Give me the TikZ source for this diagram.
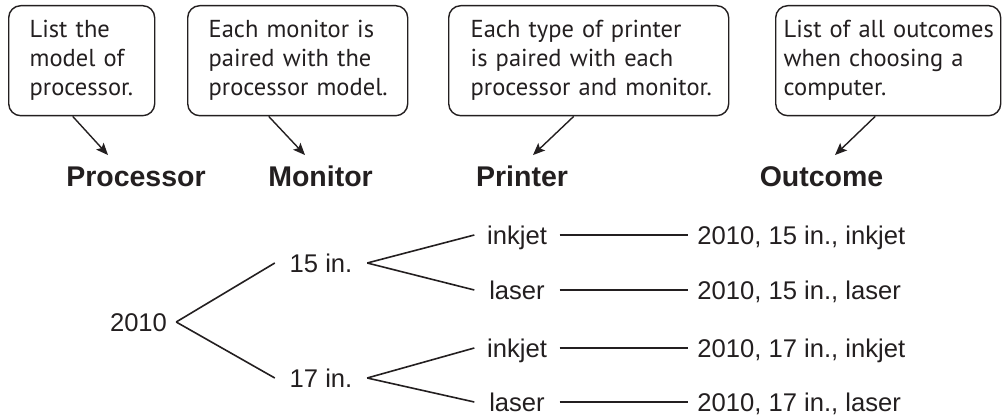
\documentclass[tikz,border=0pt]{standalone}
\usepackage{fontspec}
\setmainfont{Liberation Sans}
\newfontfamily\bullefont{PT Sans}
\usetikzlibrary{arrows.meta,positioning}
\definecolor{colEncre}{RGB}{35,31,32}

\begin{document}
\begin{tikzpicture}[x=1pt, y=-1pt, colEncre,
    bulle/.style={rectangle, rounded corners=12pt, draw, line width=1.4pt,
      anchor=north west, align=left, minimum height=110pt, inner ysep=0pt,
      font=\bullefont\fontsize{24.5}{29}\selectfont,
      execute at begin node={\hyphenpenalty=10000\exhyphenpenalty=10000}},
    titre/.style={font=\bfseries\fontsize{28.5}{34}\selectfont,
      text height=20.5pt, text depth=0pt, inner xsep=2pt, inner ysep=11pt},
    br/.style={font=\fontsize{25.6}{30}\selectfont, text height=18.4pt,
      text depth=0pt, inner sep=0pt},
    fl/.style={-{Stealth[length=12pt, width=10pt, inset=2.5pt]}, line width=1.4pt},
    tr/.style={line width=1.6pt}]
    \useasboundingbox (0,0) rectangle (1003,419);
    % bulles
    \node[bulle, text width=104pt, inner xsep=21pt] (c1) at (8,5)
      {List the\\ model of\\ processor.};
    \node[bulle, text width=178pt, inner xsep=21pt] (c2) at (187,5)
      {Each monitor is\\ paired with the\\ processor~model.};
    \node[bulle, text width=236pt, inner xsep=22pt] (c3) at (448,5)
      {Each type of printer\\ is paired with each\\ processor~and~monitor.};
    \node[bulle, text width=209pt, inner xsep=8pt] (c4) at (775,5)
      {List~of~all~outcomes\\ when choosing a\\ computer.};
    % titres
    \node[titre] (hproc) at (136,176.5) {Processor};
    \node[titre] (hmon) at (320.5,176.5) {Monitor};
    \node[titre] (hprn) at (522,176.5) {Printer};
    \node[titre] (hout) at (821.5,176.5) {Outcome};
    \draw[fl] ([xshift=-9pt]c1.south) -- ([xshift=-28pt]hproc.north);
    \draw[fl] ([xshift=-29pt]c2.south) -- ([xshift=-15.5pt]hmon.north);
    \draw[fl] ([xshift=-15pt]c3.south) -- ([xshift=11pt]hprn.north);
    \draw[fl] ([xshift=-13pt]c4.south) -- ([xshift=13.5pt]hout.north);
    % arbre
    \node[br, minimum width=75pt] (a) at (138.5,322) {2010};
    \node[br, minimum width=92pt] (m15) at (321,263) {15 in.};
    \node[br, minimum width=92pt] (m17) at (321,378) {17 in.};
    \node[br, minimum width=85pt] (p1) at (517,235) {inkjet};
    \node[br, minimum width=85pt] (p2) at (517,290) {laser};
    \node[br, minimum width=85pt] (p3) at (517,348) {inkjet};
    \node[br, minimum width=85pt] (p4) at (517,402) {laser};
    \node[br, inner xsep=9pt, right=128.5pt of p1] (o1) {2010, 15 in., inkjet};
    \node[br, inner xsep=9pt, right=128.5pt of p2] (o2) {2010, 15 in., laser};
    \node[br, inner xsep=9pt, right=128.5pt of p3] (o3) {2010, 17 in., inkjet};
    \node[br, inner xsep=9pt, right=128.5pt of p4] (o4) {2010, 17 in., laser};
    \draw[tr] (a.east) -- (m15.west);
    \draw[tr] (a.east) -- (m17.west);
    \draw[tr] (m15.east) -- (p1.west); \draw[tr] (m15.east) -- (p2.west);
    \draw[tr] (m17.east) -- (p3.west); \draw[tr] (m17.east) -- (p4.west);
    \draw[tr] (p1.east) -- (o1.west); \draw[tr] (p2.east) -- (o2.west);
    \draw[tr] (p3.east) -- (o3.west); \draw[tr] (p4.east) -- (o4.west);
\end{tikzpicture}
\end{document}
